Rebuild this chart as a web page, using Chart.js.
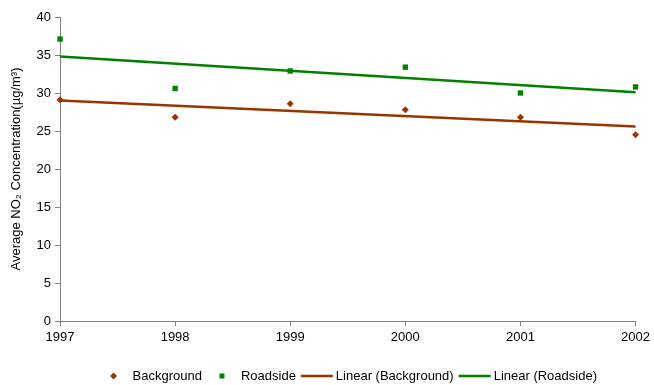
<!DOCTYPE html>
<html>
<head>
<meta charset="utf-8">
<script src="https://cdn.jsdelivr.net/npm/chart.js@4"></script>
<style>
  html, body { margin: 0; padding: 0; background: #fff; }
  #wrap { width: 654px; height: 385px; }
</style>
</head>
<body>
<div id="wrap"><canvas id="chart" width="654" height="385"></canvas></div>
<script>
"use strict";

// values
const years = [1997, 1998, 1999, 2000, 2001, 2002];
const background = [29.1, 26.8, 28.6, 27.8, 26.8, 24.5];
const roadside = [37.1, 30.6, 32.9, 33.4, 30.0, 30.8];
// trend line end points (1997 and 2002)
const trendYears = [1997, 2002];
const trendBackground = [29.0, 25.6];
const trendRoadside = [34.8, 30.1];
const yTicks = [0, 5, 10, 15, 20, 25, 30, 35, 40];

const brown = "#993300";
const green = "#008000";
const font = "'Liberation Sans', Arial, sans-serif";

function toPoints(xs, ys) {
  return xs.map(function (x, i) { return { x: x, y: ys[i] }; });
}

// legend drawn under the plot, Excel style
const bottomLegend = {
  id: "bottomLegend",
  afterDraw: function (chart) {
    const ctx = chart.ctx;
    const items = [
      { text: "Background", kind: "rectRot", color: brown },
      { text: "Roadside", kind: "rect", color: green },
      { text: "Linear (Background)", kind: "line", color: brown },
      { text: "Linear (Roadside)", kind: "line", color: green },
    ];
    ctx.save();
    ctx.font = "13px " + font;
    let total = 0;
    items.forEach(function (it, i) {
      it.sym = it.kind === "line" ? 32 : 10;
      it.gap = it.kind === "line" ? 3 : 14;
      it.w = ctx.measureText(it.text).width;
      it.after = i < items.length - 1 ? (items[i + 1].kind === "line" ? 5 : 15) : 0;
      total += it.sym + it.gap + it.w + it.after;
    });
    const area = chart.chartArea;
    let x = (area.left + area.right) / 2 - total / 2 + 5;
    const y = 376;
    items.forEach(function (it) {
      const cx = x + it.sym / 2;
      ctx.fillStyle = it.color;
      ctx.strokeStyle = it.color;
      if (it.kind === "rectRot") {
        ctx.beginPath();
        ctx.moveTo(cx, y - 3.5);
        ctx.lineTo(cx + 3.5, y);
        ctx.lineTo(cx, y + 3.5);
        ctx.lineTo(cx - 3.5, y);
        ctx.closePath();
        ctx.fill();
      } else if (it.kind === "rect") {
        ctx.fillRect(cx - 2.5, y - 2.5, 5, 5);
      } else {
        ctx.lineWidth = 2.5;
        ctx.beginPath();
        ctx.moveTo(x, y);
        ctx.lineTo(x + it.sym, y);
        ctx.stroke();
      }
      ctx.fillStyle = "#000";
      ctx.textBaseline = "middle";
      ctx.fillText(it.text, x + it.sym + it.gap, y);
      x += it.sym + it.gap + it.w + it.after;
    });
    ctx.restore();
  },
};

const ctx = document.getElementById("chart");
const chart = new Chart(ctx, {
  type: "scatter",
  data: {
    datasets: [
      {
        label: "Background",
        data: toPoints(years, background),
        pointStyle: "rectRot",
        pointRadius: 3.5,
        backgroundColor: brown,
        borderColor: brown,
        borderWidth: 0,
        clip: false,
      },
      {
        label: "Roadside",
        data: toPoints(years, roadside),
        pointStyle: "rect",
        pointRadius: 3.8,
        backgroundColor: green,
        borderColor: green,
        borderWidth: 0,
        clip: false,
      },
      {
        label: "Linear (Background)",
        data: toPoints(trendYears, trendBackground),
        showLine: true,
        pointRadius: 0,
        borderColor: brown,
        borderWidth: 2.5,
        clip: false,
      },
      {
        label: "Linear (Roadside)",
        data: toPoints(trendYears, trendRoadside),
        showLine: true,
        pointRadius: 0,
        borderColor: green,
        borderWidth: 2.5,
        clip: false,
      },
    ],
  },
  options: {
    responsive: false,
    animation: false,
    events: [],
    layout: { padding: { left: 0, right: 14, top: 17, bottom: 0 } },
    plugins: {
      legend: { display: false },
      tooltip: { enabled: false },
    },
    scales: {
      x: {
        type: "linear",
        min: 1997,
        max: 2002,
        afterFit: function (scale) { scale.height = 64; },
        afterBuildTicks: function (scale) {
          scale.ticks = years.map(function (v) { return { value: v }; });
        },
        ticks: {
          color: "#000",
          font: { family: font, size: 13 },
          padding: 4,
          maxRotation: 0,
          callback: function (v) { return String(v); },
        },
        grid: { drawOnChartArea: false, drawTicks: true, tickLength: 5, color: "#808080" },
        border: { color: "#808080", width: 1 },
      },
      y: {
        min: 0,
        max: 40,
        afterFit: function (scale) { scale.width = 60; },
        afterBuildTicks: function (scale) {
          scale.ticks = yTicks.map(function (v) { return { value: v }; });
        },
        ticks: {
          color: "#000",
          font: { family: font, size: 13 },
          padding: 4,
        },
        grid: { drawOnChartArea: false, drawTicks: true, tickLength: 5, color: "#808080" },
        border: { color: "#808080", width: 1 },
        title: {
          display: true,
          text: "Average NO\u2082 Concentration(\u00b5g/m\u00b3)",
          color: "#000",
          font: { family: font, size: 13 },
          padding: { top: 9, bottom: 4 },
        },
      },
    },
  },
  plugins: [bottomLegend],
});
</script>
</body>
</html>
